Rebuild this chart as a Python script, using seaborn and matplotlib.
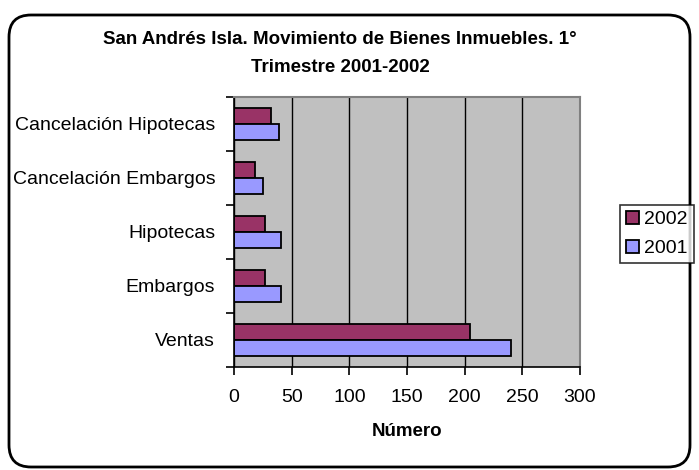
import matplotlib
matplotlib.use("Agg")
import matplotlib.pyplot as plt
import seaborn as sns
import pandas as pd
from matplotlib.patches import FancyBboxPatch, Patch
from matplotlib.ticker import FixedLocator

# data
categorias = ["Cancelación Hipotecas", "Cancelación Embargos", "Hipotecas", "Embargos", "Ventas"]
valores_2002 = [32, 18, 27, 27, 205]
valores_2001 = [39, 25, 41, 41, 240]
anios = ["2002", "2001"]
colores = {"2002": "#993366", "2001": "#9999FF"}

df = pd.DataFrame({
    "Categoria": categorias * 2,
    "Año": ["2002"] * len(categorias) + ["2001"] * len(categorias),
    "Número": valores_2002 + valores_2001,
})

sns.set_theme(style="white")
plt.rcParams["font.family"] = ["Liberation Sans", "DejaVu Sans"]
plt.rcParams["text.color"] = "black"
plt.rcParams["axes.labelcolor"] = "black"
plt.rcParams["xtick.color"] = "black"
plt.rcParams["ytick.color"] = "black"

fig = plt.figure(figsize=(6.99, 4.70), dpi=100)
ax = fig.add_axes([234 / 699, 1 - 367 / 470, 346 / 699, 270 / 470])
ax.set_facecolor("#C0C0C0")

sns.barplot(data=df, y="Categoria", x="Número", hue="Año", order=categorias,
            hue_order=anios, palette=colores, orient="h", width=0.58,
            edgecolor="black", linewidth=1.3, saturation=1, legend=False, ax=ax)

ax.set_xlim(0, 300)
ax.set_ylim(len(categorias) - 0.5, -0.5)
ax.set_xticks(range(0, 301, 50))
ax.xaxis.grid(True, color="black", linewidth=1)
ax.set_axisbelow(True)
ax.tick_params(axis="x", direction="out", length=6, width=1.2,
               labelsize=14, pad=10, bottom=True)
ax.tick_params(axis="y", which="major", length=0, labelsize=14, pad=13.5)
ax.yaxis.set_minor_locator(FixedLocator([i - 0.5 for i in range(len(categorias) + 1)]))
ax.tick_params(axis="y", which="minor", direction="out", length=6, width=1.2, left=True)

for s in ["left", "bottom"]:
    ax.spines[s].set_color("black")
    ax.spines[s].set_linewidth(1.2)
for s in ["top", "right"]:
    ax.spines[s].set_color("#808080")
    ax.spines[s].set_linewidth(1.5)

ax.set_ylabel("")
ax.set_xlabel("Número", fontsize=13.5, fontweight="bold", labelpad=12)

fig.text(340 / 699, 1 - 39 / 470, "San Andrés Isla. Movimiento de Bienes Inmuebles. 1°",
         ha="center", va="center", fontsize=13.5, fontweight="bold")
fig.text(340 / 699, 1 - 67 / 470, "Trimestre 2001-2002",
         ha="center", va="center", fontsize=13.5, fontweight="bold")

handles = [Patch(facecolor=colores[a], edgecolor="black", linewidth=1.3, label=a) for a in anios]
leg = fig.legend(handles=handles, loc="center left", bbox_to_anchor=(620 / 699, 1 - 234 / 470),
                 fontsize=14, frameon=True, fancybox=False, handlelength=0.7,
                 handleheight=0.7, handletextpad=0.25, borderpad=0.3, labelspacing=0.6,
                 borderaxespad=0)
leg.get_frame().set_edgecolor("black")
leg.get_frame().set_linewidth(1.2)

# rounded outer border, in inches so the corners stay circular
fig.patches.append(FancyBboxPatch((0.09, 0.03), 6.81, 4.52,
                                  boxstyle="round,pad=0,rounding_size=0.22",
                                  transform=fig.dpi_scale_trans, facecolor="none",
                                  edgecolor="black", linewidth=2))

fig.savefig("out.png", dpi=100)
